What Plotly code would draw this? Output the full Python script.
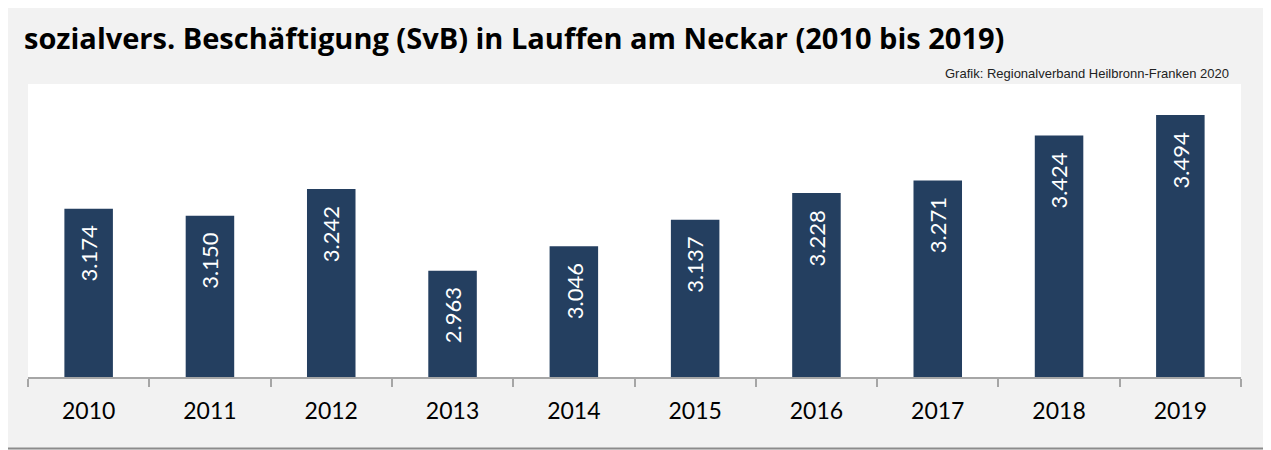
import plotly.graph_objects as go

years = ["2010", "2011", "2012", "2013", "2014", "2015", "2016", "2017", "2018", "2019"]
values = [3174, 3150, 3242, 2963, 3046, 3137, 3228, 3271, 3424, 3494]
labels = ["3.174", "3.150", "3.242", "2.963", "3.046", "3.137", "3.228", "3.271", "3.424", "3.494"]

title_text = "sozialvers. Beschäftigung (SvB) in Lauffen am Neckar (2010 bis 2019)"
source_text = "Grafik: Regionalverband Heilbronn-Franken 2020"

# page body has an 8px margin; figure coordinates are offset by it
OFF = 8
W, H = 1271 - OFF, 450 - OFF
L, R, T, B = 28 - OFF, 30, 84 - OFF, 73
pw, ph = W - L - R, H - T - B


def px_x(p):
    return (p - OFF - L) / pw


def px_y(p):
    return (H - B - (p - OFF)) / ph


BAR = "#243f60"
FONT = "Lato"

fig = go.Figure()
fig.add_trace(go.Bar(x=years, y=values, marker=dict(color=BAR, line=dict(width=0)),
                     width=0.4, hoverinfo="skip"))

for i, (v, lab) in enumerate(zip(values, labels)):
    fig.add_annotation(xref="x", yref="y", x=i, y=v, text=lab, textangle=-90,
                       showarrow=False, yanchor="top", xanchor="center", yshift=-15,
                       font=dict(family=FONT, size=22, color="white"))

fig.add_annotation(xref="paper", yref="paper", x=px_x(22), y=px_y(37),
                   xanchor="left", yanchor="middle", text="<b>" + title_text + "</b>",
                   showarrow=False, font=dict(family="Open Sans", size=29, color="black"))
fig.add_annotation(xref="paper", yref="paper", x=px_x(1231), y=px_y(73),
                   xanchor="right", yanchor="middle", text=source_text,
                   showarrow=False, font=dict(family="Liberation Sans", size=13, color="#222222"))

fig.add_shape(type="rect", xref="paper", yref="paper",
              x0=px_x(3.5), x1=px_x(1290), y0=px_y(448.5), y1=px_y(4),
              line=dict(color="#8c8c8c", width=2), fillcolor="rgba(0,0,0,0)", layer="below")

fig.update_layout(
    width=W, height=H,
    margin=dict(l=L, r=R, t=T, b=B, pad=0),
    paper_bgcolor="#f2f2f2", plot_bgcolor="white",
    showlegend=False,
    xaxis=dict(type="category", showline=True, linecolor="#a6a6a6", linewidth=2,
               ticks="outside", tickson="boundaries", ticklen=8, tickwidth=2,
               tickcolor="#a6a6a6", showgrid=False, zeroline=False,
               ticklabelstandoff=12,
               tickfont=dict(family=FONT, size=23, color="black"),
               fixedrange=True, range=[-0.5, 9.5]),
    yaxis=dict(range=[2600, 3600], visible=False, showgrid=False, fixedrange=True),
)

fig.write_html("out.html")
